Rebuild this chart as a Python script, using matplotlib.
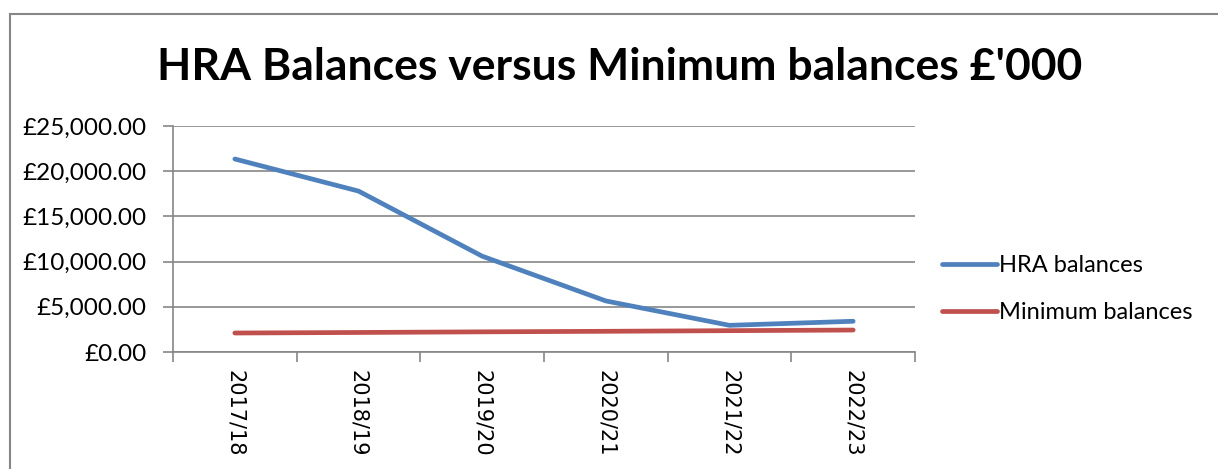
import matplotlib.pyplot as plt
from matplotlib.lines import Line2D
from matplotlib.patches import Rectangle
from matplotlib.ticker import FuncFormatter

plt.rcParams["font.family"] = ["Lato", "DejaVu Sans"]

years = ["2017/18", "2018/19", "2019/20", "2020/21", "2021/22", "2022/23"]
hra_balances = [21350, 17800, 10600, 5650, 2950, 3400]
minimum_balances = [2100, 2160, 2230, 2290, 2360, 2430]

BLUE = "#4F81BD"
RED = "#C0504D"
GREY = "#868686"

fig = plt.figure(figsize=(12.18, 4.69), dpi=100)
ax = fig.add_axes([173 / 1218, 1 - 352 / 469, (915 - 173) / 1218, (352 - 126) / 469])

x = list(range(len(years)))
ax.plot(x, hra_balances, color=BLUE, linewidth=3.4, solid_capstyle="round")
ax.plot(x, minimum_balances, color=RED, linewidth=3.4, solid_capstyle="round")

ax.set_xlim(-0.5, len(years) - 0.5)
ax.set_ylim(0, 25000)
ax.set_yticks(range(0, 25001, 5000))
ax.yaxis.set_major_formatter(FuncFormatter(lambda v, p: f"£{v:,.2f}"))
ax.set_xticks([i - 0.5 for i in range(len(years) + 1)])
ax.set_xticklabels([])
ax.set_xticks(x, minor=True)
ax.set_xticklabels(years, minor=True, rotation=270, fontsize=15,
                   family=["DejaVu Sans"])
ax.tick_params(axis="x", which="minor", length=0, pad=13)
ax.tick_params(axis="x", which="major", length=7, color=GREY, width=1.2)
ax.tick_params(axis="y", length=7, color=GREY, width=1.2, labelsize=17.5, pad=12)

ax.grid(axis="y", color=GREY, linewidth=1.2)
ax.set_axisbelow(True)
for side in ["top", "right"]:
    ax.spines[side].set_visible(False)
for side in ["left", "bottom"]:
    ax.spines[side].set_color(GREY)
    ax.spines[side].set_linewidth(1.2)

handles = [Line2D([], [], color=BLUE, linewidth=3.4, solid_capstyle="round"),
           Line2D([], [], color=RED, linewidth=3.4, solid_capstyle="round")]
fig.legend(handles, ["HRA balances", "Minimum balances"], loc="upper left",
           bbox_to_anchor=(921 / 1218, 1 - 234 / 469), frameon=False,
           fontsize=17, handlelength=2.3, handletextpad=0.12, labelspacing=1.1)

fig.text(620 / 1218, 1 - 67 / 469, "HRA Balances versus Minimum balances £'000",
         ha="center", va="center", fontsize=32, fontweight="bold")

fig.patches.append(Rectangle((10 / 1218, -0.1), 1.2, 1 - 14 / 469 + 0.1,
                             transform=fig.transFigure, fill=False,
                             edgecolor=GREY, linewidth=1.5))

fig.savefig("out.png", dpi=100)
